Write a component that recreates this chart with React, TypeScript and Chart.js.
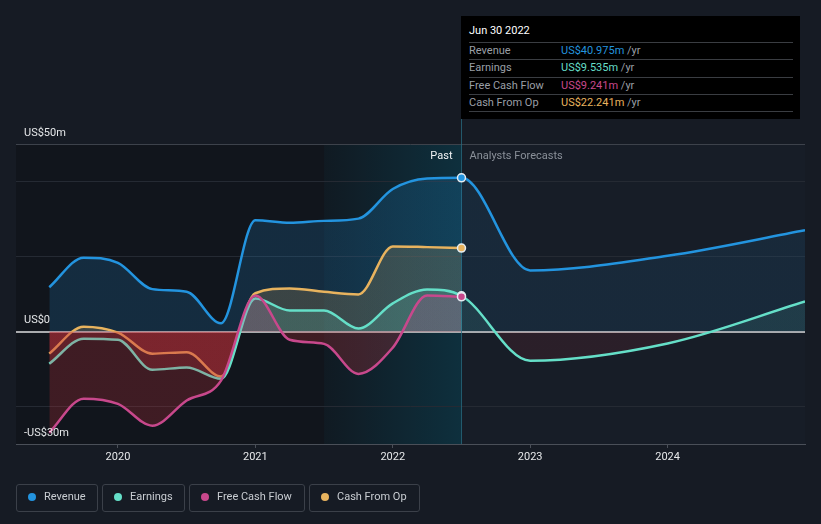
import React, { useEffect, useRef } from "react";
import { Chart, registerables } from "chart.js";

Chart.register(...registerables);

// ---------- data ----------
const pastDates = [2019.5, 2019.75, 2020, 2020.25, 2020.5, 2020.75, 2021, 2021.25, 2021.5, 2021.75, 2022, 2022.25, 2022.5];
const revenuePast = [11.8, 19.7, 18.3, 11.3, 10.6, 2.2, 29.7, 29.0, 29.5, 30.1, 38.0, 40.8, 40.975];
const earningsPast = [-8.6, -1.9, -2.2, -10.2, -9.6, -12.6, 8.8, 5.6, 5.6, 0.8, 7.5, 11.2, 9.535];
const fcfPast = [-27, -17.9, -19.3, -25.1, -18.4, -13.1, 9.6, -2.2, -3.3, -11.3, -4.3, 9.6, 9.241];
const cfoPast = [-5.9, 1.3, -0.3, -5.9, -5.5, -12.0, 10.2, 11.5, 10.6, 9.9, 22.7, 22.5, 22.241];

const forecastDates = [2023, 2024, 2025];
const revenueForecast = [16.3, 20.2, 27.0];
const earningsForecast = [-7.8, -3.2, 8.0];

const xTickValues = [2020, 2021, 2022, 2023, 2024];
const yGridValues = [-30, -20, 0, 20, 40, 50];
const yLabelValues = [50, 0, -30];
const yLabelTexts = ["US$50m", "US$0", "-US$30m"];

const seriesNames = ["Revenue", "Earnings", "Free Cash Flow", "Cash From Op"];
const seriesColors = ["#2394df", "#65dfc8", "#c8488c", "#e8b35e"];
const tooltipDate = "Jun 30 2022";
const tooltipValues = ["US$40.975m", "US$9.535m", "US$9.241m", "US$22.241m"];

// ---------- layout constants ----------
const W = 821;
const H = 524;
const X_MIN = 2019.258;
const X_MAX = 2025;
const Y_MIN = -30;
const Y_MAX = 50;
const NOW = 2022.5;
const HIGHLIGHT_FROM = 2021.5;
const AREA_LEFT = 16;
const AREA_RIGHT = 805;

const toPts = (xs: number[], ys: number[]) => xs.map((x, i) => ({ x, y: ys[i] }));

function splitGradient(ctx: CanvasRenderingContext2D, split: number, rgb: string, aPast: number, aFore: number) {
  const g = ctx.createLinearGradient(0, 0, W, 0);
  const s = split / W;
  g.addColorStop(0, `rgba(${rgb},${aPast})`);
  g.addColorStop(s, `rgba(${rgb},${aPast})`);
  g.addColorStop(Math.min(1, s + 0.0005), `rgba(${rgb},${aFore})`);
  g.addColorStop(1, `rgba(${rgb},${aFore})`);
  return g;
}

const decorPlugin = {
  id: "decor",
  beforeDraw(chart: any) {
    const { ctx, chartArea: a, scales } = chart;
    const xn = scales.x.getPixelForValue(NOW);
    const xh = scales.x.getPixelForValue(HIGHLIGHT_FROM);
    ctx.save();
    ctx.fillStyle = "#171d27";
    ctx.fillRect(xn, a.top, a.right - xn, a.bottom - a.top);
    ctx.fillStyle = "#11151c";
    ctx.fillRect(a.left, a.top, xn - a.left, a.bottom - a.top);
    const g = ctx.createLinearGradient(xh, 0, xn, 0);
    g.addColorStop(0, "rgba(0,150,190,0.04)");
    g.addColorStop(1, "rgba(0,155,195,0.2)");
    ctx.fillStyle = g;
    ctx.fillRect(xh, a.top, xn - xh, a.bottom - a.top);
    ctx.restore();
  },
  beforeDatasetsDraw(chart: any) {
    const { ctx, chartArea: a, scales } = chart;
    const xn = Math.round(scales.x.getPixelForValue(NOW)) + 0.5;
    ctx.save();
    ctx.strokeStyle = "rgba(40,110,130,0.75)";
    ctx.lineWidth = 1;
    ctx.beginPath();
    ctx.moveTo(xn, 20);
    ctx.lineTo(xn, a.bottom);
    ctx.stroke();
    ctx.restore();
  },
  afterDraw(chart: any) {
    const { ctx, scales } = chart;
    const xn = scales.x.getPixelForValue(NOW);
    ctx.save();
    ctx.font = "11px Roboto";
    ctx.textBaseline = "middle";
    ctx.fillStyle = "#e4e6e8";
    ctx.textAlign = "left";
    yLabelValues.forEach((v, i) => {
      const y = scales.y.getPixelForValue(v);
      ctx.fillText(yLabelTexts[i], 24, y - 11);
    });
    const ty = scales.y.getPixelForValue(Y_MAX) + 12.5;
    ctx.textAlign = "right";
    ctx.fillStyle = "#f0f2f4";
    ctx.fillText("Past", xn - 9, ty);
    ctx.textAlign = "left";
    ctx.fillStyle = "#8a9099";
    ctx.fillText("Analysts Forecasts", xn + 8, ty);
    ctx.restore();
  },
};

export default function App() {
  const canvasRef = useRef<HTMLCanvasElement | null>(null);

  useEffect(() => {
    const canvas = canvasRef.current;
    if (!canvas) return;
    const ctx = canvas.getContext("2d") as CanvasRenderingContext2D;
    const split = AREA_LEFT + ((NOW - X_MIN) / (X_MAX - X_MIN)) * (AREA_RIGHT - AREA_LEFT);
    const red = "200,48,58";

    const pointRadius = (c: any) => (c.raw && c.raw.x === NOW ? 4 : 0);
    const common = {
      borderWidth: 2.5,
      cubicInterpolationMode: "monotone" as const,
      pointRadius,
      pointHoverRadius: pointRadius,
      pointBorderColor: "#e6edf2",
      pointBorderWidth: 1.5,
    };

    const chart = new Chart(ctx, {
      type: "line",
      data: {
        datasets: [
          {
            ...common,
            label: seriesNames[2],
            data: toPts(pastDates, fcfPast),
            borderColor: seriesColors[2],
            pointBackgroundColor: seriesColors[2],
            backgroundColor: "rgba(200,72,140,0.2)",
            fill: {
              target: "origin",
              above: splitGradient(ctx, split, "200,72,140", 0.2, 0.1),
              below: splitGradient(ctx, split, red, 0.25, 0.11),
            },
          },
          {
            ...common,
            label: seriesNames[1],
            data: [...toPts(pastDates, earningsPast), ...toPts(forecastDates, earningsForecast)],
            borderColor: seriesColors[1],
            pointBackgroundColor: seriesColors[1],
            backgroundColor: "rgba(101,223,200,0.18)",
            fill: {
              target: "origin",
              above: splitGradient(ctx, split, "101,223,200", 0.18, 0.1),
              below: splitGradient(ctx, split, red, 0.25, 0.11),
            },
          },
          {
            ...common,
            label: seriesNames[3],
            data: toPts(pastDates, cfoPast),
            borderColor: seriesColors[3],
            pointBackgroundColor: seriesColors[3],
            backgroundColor: "rgba(232,179,94,0.18)",
            fill: {
              target: "origin",
              above: splitGradient(ctx, split, "232,179,94", 0.18, 0.1),
              below: splitGradient(ctx, split, red, 0.25, 0.11),
            },
          },
          {
            ...common,
            label: seriesNames[0],
            data: [...toPts(pastDates, revenuePast), ...toPts(forecastDates, revenueForecast)],
            borderColor: seriesColors[0],
            pointBackgroundColor: seriesColors[0],
            backgroundColor: "rgba(35,148,223,0.17)",
            fill: {
              target: "origin",
              above: splitGradient(ctx, split, "35,148,223", 0.18, 0.1),
              below: splitGradient(ctx, split, "35,148,223", 0.18, 0.1),
            },
          },
        ],
      },
      options: {
        responsive: false,
        animation: false,
        devicePixelRatio: 1,
        events: [],
        layout: { padding: { left: 0, right: W - AREA_RIGHT, top: 144, bottom: 0 } },
        plugins: { legend: { display: false }, tooltip: { enabled: false } },
        scales: {
          x: {
            type: "linear",
            min: X_MIN,
            max: X_MAX,
            afterBuildTicks: (s: any) => {
              s.ticks = xTickValues.map((v) => ({ value: v }));
            },
            afterFit: (s: any) => {
              s.height = 80;
            },
            ticks: {
              color: "#e6e8ea",
              font: { family: "Roboto", size: 11 },
              padding: 3,
              maxRotation: 0,
              callback: (v: any) => String(v),
            },
            grid: { drawOnChartArea: false, drawTicks: true, tickLength: 4, color: "#4a4f58" },
            border: { display: true, color: "#4a4f58", width: 1 },
          },
          y: {
            type: "linear",
            min: Y_MIN,
            max: Y_MAX,
            afterBuildTicks: (s: any) => {
              s.ticks = yGridValues.map((v) => ({ value: v }));
            },
            afterFit: (s: any) => {
              s.width = AREA_LEFT;
            },
            ticks: { display: false },
            grid: {
              drawTicks: false,
              color: (c: any) => {
                const v = c.tick && c.tick.value;
                if (v === 0) return "#a9abae";
                if (v === Y_MAX) return "#3d424b";
                if (v === Y_MIN) return "rgba(0,0,0,0)";
                return "#252a33";
              },
              lineWidth: (c: any) => (c.tick && c.tick.value === 0 ? 2 : 1),
            },
            border: { display: false },
          },
        },
      },
      plugins: [decorPlugin],
    });
    return () => chart.destroy();
  }, []);

  const legendLefts = [16, 102, 189, 309];
  const legendWidths = [82, 83, 116, 111];
  const rowTop = [25.5, 43, 60.5, 78];

  return (
    <div
      style={{
        position: "fixed",
        left: 0,
        top: 0,
        width: W,
        height: H,
        background: "#161b24",
        overflow: "hidden",
        fontFamily: "Roboto, sans-serif",
      }}
    >
      <canvas ref={canvasRef} width={W} height={H} style={{ position: "absolute", left: 0, top: 0 }} />

      <div style={{ position: "absolute", left: 461, top: 16, width: 339, height: 103, background: "#000" }}>
        <div style={{ position: "absolute", left: 8, top: 8, fontSize: 11, lineHeight: "14px", color: "#ffffff", fontWeight: 400 }}>
          {tooltipDate}
        </div>
        {[0, 1, 2, 3, 4].map((i) => (
          <div
            key={"sep" + i}
            style={{
              position: "absolute",
              left: 8,
              width: 324,
              height: 1,
              top: i < 4 ? rowTop[i] : 95,
              background: "#3a3d42",
            }}
          />
        ))}
        {seriesNames.map((name, i) => (
          <React.Fragment key={name}>
            <div
              style={{
                position: "absolute",
                left: 8,
                top: rowTop[i] + 1,
                height: 16,
                lineHeight: "16px",
                fontSize: 11,
                color: "#9a9fa6",
              }}
            >
              {name}
            </div>
            <div
              style={{
                position: "absolute",
                left: 100,
                top: rowTop[i] + 1,
                height: 16,
                lineHeight: "16px",
                fontSize: 11,
                color: "#9a9fa6",
                whiteSpace: "nowrap",
              }}
            >
              <span style={{ color: seriesColors[i] }}>{tooltipValues[i]}</span> /yr
            </div>
          </React.Fragment>
        ))}
      </div>

      {seriesNames.map((name, i) => (
        <div
          key={"lg" + name}
          style={{
            position: "absolute",
            left: legendLefts[i],
            top: 484,
            width: legendWidths[i],
            height: 28,
            boxSizing: "border-box",
            border: "1px solid #3b4049",
            borderRadius: 3,
          }}
        >
          <div
            style={{
              position: "absolute",
              left: 11,
              top: 8,
              width: 8,
              height: 8,
              borderRadius: 4,
              background: seriesColors[i],
            }}
          />
          <div
            style={{
              position: "absolute",
              left: 27,
              top: 0,
              height: 26,
              lineHeight: "24px",
              fontSize: 11,
              color: "#c9cdd2",
              whiteSpace: "nowrap",
            }}
          >
            {name}
          </div>
        </div>
      ))}
    </div>
  );
}
